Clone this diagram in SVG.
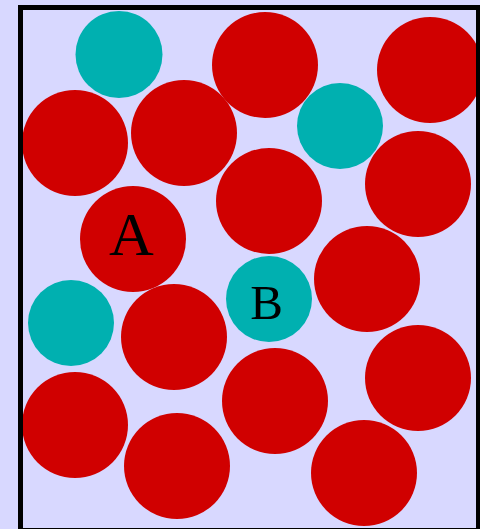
<svg xmlns="http://www.w3.org/2000/svg" width="480" height="529" viewBox="0 0 480 529">
<style>
.r{fill:#d00000}
.t{fill:#00b0b0}
.lbl{font-family:"Liberation Serif",serif;fill:#000;text-anchor:middle}
</style>
<rect x="0" y="0" width="480" height="529" fill="#d8d8ff"/>
<g id="circles">
<circle id="c1" class="t" cx="119" cy="54.5" r="43.5"/>
<circle id="c2" class="r" cx="265" cy="65" r="53"/>
<circle id="c3" class="r" cx="430" cy="70" r="53"/>
<circle id="c4" class="r" cx="75" cy="143" r="53"/>
<circle id="c5" class="r" cx="184" cy="133" r="53"/>
<circle id="c6" class="t" cx="340" cy="126" r="43"/>
<circle id="c7" class="r" cx="418" cy="184" r="53"/>
<circle id="c8" class="r" cx="269" cy="201" r="53"/>
<g id="nodeA"><circle class="r" cx="133" cy="239" r="53"/><text class="lbl" x="131.5" y="255" font-size="62">A</text></g>
<circle id="c10" class="r" cx="367" cy="279" r="53"/>
<g id="nodeB"><circle class="t" cx="269" cy="299" r="43"/><text class="lbl" x="266.5" y="319" font-size="49">B</text></g>
<circle id="c12" class="t" cx="71" cy="323" r="43"/>
<circle id="c13" class="r" cx="174" cy="337" r="53"/>
<circle id="c14" class="r" cx="418" cy="378" r="53"/>
<circle id="c15" class="r" cx="275" cy="401" r="53"/>
<circle id="c16" class="r" cx="75" cy="425" r="53"/>
<circle id="c17" class="r" cx="177" cy="466" r="53"/>
<circle id="c18" class="r" cx="364" cy="473" r="53"/>
</g>
<rect id="border" x="20.5" y="7.5" width="458" height="523" fill="none" stroke="#000" stroke-width="5"/>
</svg>
